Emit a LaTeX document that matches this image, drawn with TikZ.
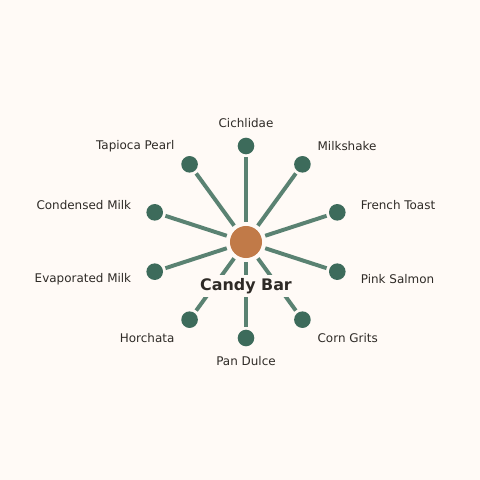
\documentclass[tikz,border=0pt]{standalone}
\usepackage{fontspec}
\setmainfont{DejaVu Sans}
\definecolor{bg}{HTML}{FFFAF6}
\definecolor{spokecol}{HTML}{5A8272}
\definecolor{leafcol}{HTML}{3D6B5B}
\definecolor{hubcol}{HTML}{C17A48}
\definecolor{ink}{HTML}{2E2A26}
\tikzstyle{spoke}=[draw=spokecol, line width=2.8pt]
\tikzstyle{leaf}=[circle, fill=leafcol, inner sep=0pt, minimum size=0.415cm, outer sep=2.1pt]
\tikzstyle{word}=[text=ink, font=\fontsize{8.5}{10}\selectfont, inner sep=1pt]

\begin{document}
\begin{tikzpicture}[x=0.025cm, y=0.025cm]
    \fill[bg] (-246,-238) rectangle (234,242);
    \useasboundingbox (-246,-238) rectangle (234,242);
    \node[circle, fill=hubcol, inner sep=0pt, minimum size=0.8cm, outer sep=3pt] (hub) at (0,0) {};
    \node[leaf] (cichlidae) at (90:96) {};
    \node[leaf] (milkshake) at (54:96) {};
    \node[leaf] (toast) at (18:96) {};
    \node[leaf] (salmon) at (-18:96) {};
    \node[leaf] (grits) at (-54:96) {};
    \node[leaf] (dulce) at (-90:96) {};
    \node[leaf] (horchata) at (-126:96) {};
    \node[leaf] (evaporated) at (-162:96) {};
    \node[leaf] (condensed) at (162:96) {};
    \node[leaf] (tapioca) at (126:96) {};
    \node[word] (l-cichlidae) at (90:119) {Cichlidae};
    \node[word, anchor=west] (l-milkshake) at (54:119) {Milkshake};
    \node[word, anchor=west] (l-toast) at (18:119) {French Toast};
    \node[word, anchor=west] (l-salmon) at (-18:119) {Pink Salmon};
    \node[word, anchor=west] (l-grits) at (-54:119) {Corn Grits};
    \node[word] (l-dulce) at (-90:119) {Pan Dulce};
    \node[word, anchor=east] (l-horchata) at (-126:119) {Horchata};
    \node[word, anchor=east] (l-evaporated) at (-162:119) {Evaporated Milk};
    \node[word, anchor=east] (l-condensed) at (162:119) {Condensed Milk};
    \node[word, anchor=east] (l-tapioca) at (126:119) {Tapioca Pearl};
    \path[spoke] (hub) -- (cichlidae);
    \path[spoke] (hub) -- (milkshake);
    \path[spoke] (hub) -- (toast);
    \path[spoke] (hub) -- (salmon);
    \path[spoke] (hub) -- (grits);
    \path[spoke] (hub) -- (dulce);
    \path[spoke] (hub) -- (horchata);
    \path[spoke] (hub) -- (evaporated);
    \path[spoke] (hub) -- (condensed);
    \path[spoke] (hub) -- (tapioca);
    \node[fill=bg, text=ink, font=\bfseries\fontsize{11.3}{13}\selectfont, inner sep=2pt] (title) at (0,-44) {Candy Bar};
\end{tikzpicture}
\end{document}
